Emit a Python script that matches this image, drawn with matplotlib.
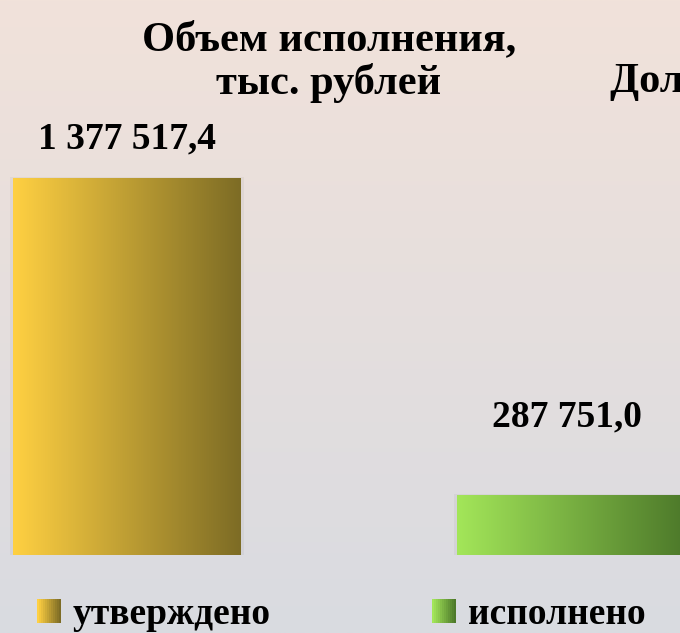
import matplotlib
matplotlib.use("Agg")
import matplotlib.pyplot as plt
import numpy as np
from matplotlib.colors import LinearSegmentedColormap
from matplotlib.legend_handler import HandlerPatch
from matplotlib.patches import Patch, Rectangle

categories = ["утверждено", "исполнено"]
values = [1377517.4, 287751.0]
value_labels = ["1 377 517,4", "287 751,0"]
title = "Объем исполнения,\nтыс. рублей"
side_title = "Доля исполнения, %"

bar_colors = [("#FFD042", "#7D6C25"), ("#A3E659", "#4D792A")]
bg_top, bg_bottom = "#F1E2DA", "#D9DBE1"

plt.rcParams["font.family"] = ["Liberation Serif", "DejaVu Serif"]


class GradientHandler(HandlerPatch):
    def __init__(self, c0, c1, steps=12):
        super().__init__()
        self.cmap = LinearSegmentedColormap.from_list("h", [c0, c1])
        self.steps = steps

    def create_artists(self, legend, orig_handle, xdescent, ydescent, width, height, fontsize, trans):
        side = width
        y0 = -ydescent + (height - side) / 2
        step = side / self.steps
        arts = []
        for i in range(self.steps):
            r = Rectangle((-xdescent + i * step, y0), step * 1.05, side,
                          facecolor=self.cmap(i / (self.steps - 1)), edgecolor="none", transform=trans)
            arts.append(r)
        return arts


fig = plt.figure(figsize=(6.8, 6.33), dpi=100)

# background gradient
bg = fig.add_axes([0, 0, 1, 1], zorder=-10)
bg_cmap = LinearSegmentedColormap.from_list("bg", [bg_top, bg_bottom])
bg.imshow(np.linspace(0, 1, 256).reshape(-1, 1), aspect="auto", cmap=bg_cmap, extent=[0, 1, 0, 1])
bg.axis("off")

ax = fig.add_axes([0, (633 - 555) / 633, 1, (555 - 100) / 633])
ax.patch.set_alpha(0)
bars = ax.bar([0, 1], values, width=0.5135, color="none", edgecolor="none")
ax.set_xlim(-127 / 444, 553 / 444)
ax.set_ylim(81500, 81500 + (1377517.4 - 81500) * 455 / 377)
ax.axis("off")

for bar, (c0, c1) in zip(bars, bar_colors):
    x0, y0 = bar.get_x(), ax.get_ylim()[0]
    x1, y1 = x0 + bar.get_width(), bar.get_height()
    cmap = LinearSegmentedColormap.from_list("b", [c0, c1])
    # soft shadow
    ax.add_patch(Rectangle((x0 - 0.006, y0), (x1 - x0) + 0.012, y1 - y0 + 3000,
                           facecolor="#666666", alpha=0.07, edgecolor="none", zorder=1))
    im = ax.imshow(np.linspace(0, 1, 256).reshape(1, -1), aspect="auto", cmap=cmap,
                   extent=[x0, x1, y0, y1], zorder=2)
    im.set_clip_path(bar)

offsets = [28, 56]
shifts = [0, -0.009]
for bar, lab, off, sh in zip(bars, value_labels, offsets, shifts):
    ax.annotate(lab, (bar.get_x() + bar.get_width() / 2 + sh, bar.get_height()),
                xytext=(0, off), textcoords="offset points", ha="center", va="center",
                fontsize=27, fontweight="bold", annotation_clip=False)

fig.text(329 / 680, 1 - 62 / 633, title, ha="center", va="center", fontsize=30.5,
         fontweight="bold", linespacing=1.1)
fig.text(610 / 680, 1 - 82 / 633, side_title, ha="left", va="center", fontsize=30.5, fontweight="bold")

handles = [Patch(label=c) for c in categories]
fig.legend(handles=handles, labels=categories, loc="center left", bbox_to_anchor=(37 / 680, 1 - 615 / 633),
           ncol=2, frameon=False, borderpad=0, borderaxespad=0, handlelength=0.64, handleheight=0.7,
           handletextpad=0.32, columnspacing=4.3, prop={"weight": "bold", "size": 27},
           handler_map={handles[0]: GradientHandler(*bar_colors[0]), handles[1]: GradientHandler(*bar_colors[1])})

fig.savefig("out.png", dpi=100)
